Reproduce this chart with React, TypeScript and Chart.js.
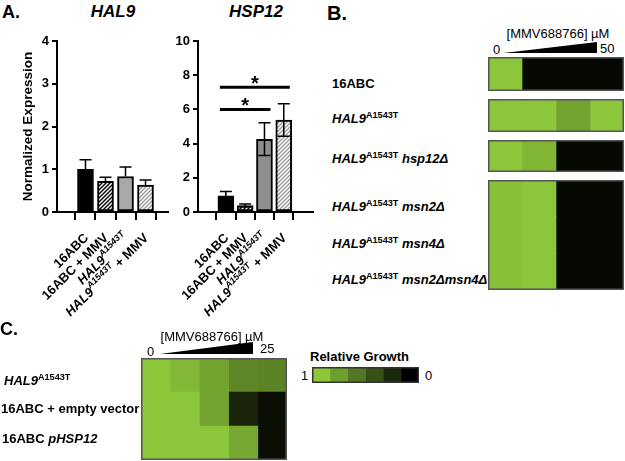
import React, { useEffect, useRef } from 'react';
import { Chart, registerables } from 'chart.js';
Chart.register(...registerables);

const FONT = '"Liberation Sans", Arial, Helvetica, sans-serif';

// ---------- Panel A data ----------
const conditionLabels = ['16ABC', '16ABC + MMV', 'HAL9 A1543T', 'HAL9 A1543T + MMV'];
const hal9Values = [1.0, 0.72, 0.83, 0.63];
const hal9ErrHigh = [1.22, 0.81, 1.05, 0.75];
const hal9YTicks = [0, 1, 2, 3, 4];
const hsp12Values = [0.95, 0.38, 4.25, 5.37];
const hsp12ErrHigh = [1.2, 0.47, 5.22, 6.33];
const hsp12ErrLow = [0.7, 0.29, 3.3, 4.43];
const hsp12YTicks = [0, 2, 4, 6, 8, 10];
const hsp12SigFrom = [0, 0];
const hsp12SigTo = [2, 3];
const hsp12SigLevel = [6.0, 7.3];

// rich x-axis labels (segments)
const xLabelParts = [
  [{ text: '16ABC' }],
  [{ text: '16ABC + MMV' }],
  [{ text: 'HAL9', italic: true }, { text: 'A1543T', italic: true, sup: true }],
  [{ text: 'HAL9', italic: true }, { text: 'A1543T', italic: true, sup: true }, { text: ' + MMV' }],
];

// ---------- Panel B data (relative growth, columns = increasing MMV688766 up to 50 µM) ----------
const bGrowth16ABC = [[1, 0.04, 0.04, 0.04]];
const bGrowthHal9 = [[1, 1, 0.82, 1]];
const bGrowthHsp12 = [[1, 0.92, 0.04, 0.04]];
const bGrowthMsn = [
  [0.97, 1, 0.04, 0.04],
  [0.97, 1, 0.04, 0.04],
  [0.97, 1, 0.04, 0.04],
];

// ---------- Panel C data (columns up to 25 µM) ----------
const cGrowth = [
  [1, 0.93, 0.83, 0.68, 0.66],
  [1, 1, 0.82, 0.18, 0.07],
  [1, 1, 1, 0.85, 0.07],
];
const legendSteps = [[1, 0.8, 0.6, 0.4, 0.2, 0]];

const GREEN = [140, 198, 58];
function growthColor(g: number) {
  return `rgb(${Math.round(GREEN[0] * g)},${Math.round(GREEN[1] * g)},${Math.round(GREEN[2] * g)})`;
}

function hatch(color: string, size = 4, lw = 1.3) {
  const c = document.createElement('canvas');
  c.width = size;
  c.height = size;
  const g = c.getContext('2d')!;
  g.fillStyle = '#fff';
  g.fillRect(0, 0, size, size);
  g.strokeStyle = color;
  g.lineWidth = lw;
  g.beginPath();
  g.moveTo(0, size);
  g.lineTo(size, 0);
  g.moveTo(-1, 1);
  g.lineTo(1, -1);
  g.moveTo(size - 1, size + 1);
  g.lineTo(size + 1, size - 1);
  g.stroke();
  return g.createPattern(c, 'repeat');
}

// ---------- plugins ----------
const errorBarsPlugin = {
  id: 'errorBars',
  afterDatasetsDraw(chart: any, _a: any, opts: any) {
    const { ctx } = chart;
    const xs = chart.scales.x;
    const ys = chart.scales.y;
    const vals = chart.data.datasets[0].data;
    ctx.save();
    ctx.strokeStyle = '#000';
    ctx.lineWidth = 1.5;
    vals.forEach((p: any, i: number) => {
      const x = xs.getPixelForValue(i);
      const yTop = ys.getPixelForValue(opts.high[i]);
      const yBot = ys.getPixelForValue(opts.low ? opts.low[i] : p.y);
      const half = opts.cap / 2;
      ctx.beginPath();
      ctx.moveTo(x, yTop);
      ctx.lineTo(x, yBot);
      ctx.moveTo(x - half, yTop);
      ctx.lineTo(x + half, yTop);
      if (opts.low) {
        ctx.moveTo(x - half, yBot);
        ctx.lineTo(x + half, yBot);
      }
      ctx.stroke();
    });
    ctx.restore();
  },
};

const significancePlugin = {
  id: 'significance',
  afterDatasetsDraw(chart: any, _a: any, opts: any) {
    if (!opts.from) return;
    const { ctx } = chart;
    const xs = chart.scales.x;
    const ys = chart.scales.y;
    ctx.save();
    opts.from.forEach((f: number, k: number) => {
      const x0 = xs.getPixelForValue(f) - 6;
      const x1 = xs.getPixelForValue(opts.to[k]) + 6;
      const y = ys.getPixelForValue(opts.level[k]);
      ctx.strokeStyle = '#000';
      ctx.lineWidth = 3;
      ctx.beginPath();
      ctx.moveTo(x0, y);
      ctx.lineTo(x1, y);
      ctx.stroke();
      ctx.fillStyle = '#000';
      ctx.font = `bold 20px ${FONT}`;
      ctx.textAlign = 'center';
      ctx.textBaseline = 'alphabetic';
      ctx.fillText('*', (x0 + x1) / 2, y + 3);
    });
    ctx.restore();
  },
};

const richXLabelsPlugin = {
  id: 'richXLabels',
  afterDraw(chart: any, _a: any, opts: any) {
    const { ctx } = chart;
    const xs = chart.scales.x;
    const base = chart.chartArea.bottom;
    const size = opts.size;
    const fontFor = (p: any) => `${p.italic ? 'italic ' : ''}bold ${p.sup ? Math.round(size * 0.7) : size}px ${FONT}`;
    opts.labels.forEach((parts: any[], i: number) => {
      const x = xs.getPixelForValue(i);
      ctx.save();
      ctx.translate(x + opts.dx, base + opts.dy);
      ctx.rotate(-Math.PI / 4);
      let total = 0;
      parts.forEach((p) => {
        ctx.font = fontFor(p);
        total += ctx.measureText(p.text).width;
      });
      let cx = -total;
      ctx.textBaseline = 'middle';
      ctx.textAlign = 'left';
      ctx.fillStyle = '#000';
      parts.forEach((p) => {
        ctx.font = fontFor(p);
        ctx.fillText(p.text, cx, p.sup ? -size * 0.38 : 0);
        cx += ctx.measureText(p.text).width;
      });
      ctx.restore();
    });
  },
};

const framePlugin = {
  id: 'frame',
  afterDraw(chart: any, _a: any, opts: any) {
    const { ctx, chartArea: a } = chart;
    ctx.save();
    ctx.strokeStyle = opts.color || '#555';
    ctx.lineWidth = 1.5;
    ctx.strokeRect(a.left + 0.75, a.top + 0.75, a.right - a.left - 1.5, a.bottom - a.top - 1.5);
    ctx.restore();
  },
};

// ---------- configs ----------
function barConfig(p: {
  values: number[]; high: number[]; low: number[] | null; yTicks: number[];
  xMin: number; xMax: number; gray: string; yAxisW: number; padRight: number; xAxisH: number;
  title?: string; sig?: any;
}) {
  const fills = ['#000', hatch('#000', 4, 1.4), p.gray, hatch('#9a9a9a', 4, 1.3)];
  const yMax = p.yTicks[p.yTicks.length - 1];
  return {
    type: 'bar',
    data: {
      labels: conditionLabels,
      datasets: [{
        data: p.values.map((v, i) => ({ x: i, y: v })),
        backgroundColor: fills,
        borderColor: '#000',
        borderWidth: 2,
        borderSkipped: false,
        barThickness: 16,
      }],
    },
    options: {
      animation: false,
      responsive: false,
      events: [],
      layout: { padding: { top: 16, right: p.padRight, left: 0, bottom: 0 } },
      plugins: {
        legend: { display: false },
        tooltip: { enabled: false },
        errorBars: { high: p.high, low: p.low, cap: 12 },
        significance: p.sig || {},
        richXLabels: { labels: xLabelParts, size: 13, dx: 1, dy: 24 },
      },
      scales: {
        x: {
          type: 'linear',
          min: p.xMin,
          max: p.xMax,
          afterBuildTicks: (s: any) => { s.ticks = p.values.map((_, i) => ({ value: i })); },
          ticks: { display: false },
          grid: { drawOnChartArea: false, drawTicks: true, tickLength: 8, color: '#000', lineWidth: 2 },
          border: { color: '#000', width: 2 },
          afterFit: (s: any) => { s.height = p.xAxisH; },
        },
        y: {
          min: 0,
          max: yMax,
          afterBuildTicks: (s: any) => { s.ticks = p.yTicks.map((v) => ({ value: v })); },
          ticks: { font: { family: FONT, size: 13, weight: 'bold' }, color: '#000', padding: 3 },
          grid: { drawOnChartArea: false, drawTicks: true, tickLength: 5, color: '#000', lineWidth: 2 },
          border: { color: '#000', width: 2 },
          title: p.title
            ? { display: true, text: p.title, color: '#000', font: { family: FONT, size: 13.5, weight: 'bold' }, padding: { top: 20, bottom: 0 } }
            : { display: false },
          afterFit: (s: any) => { s.width = p.yAxisW; },
        },
      },
    },
    plugins: [errorBarsPlugin, significancePlugin, richXLabelsPlugin],
  };
}

function heatConfig(matrix: number[][], frameColor: string) {
  const nCols = matrix[0].length;
  const datasets = Array.from({ length: nCols }, (_, c) => ({
    data: matrix.map(() => 1),
    backgroundColor: matrix.map((row) => growthColor(row[c])),
    borderWidth: 0,
    categoryPercentage: 1,
    barPercentage: 1,
  }));
  return {
    type: 'bar',
    data: { labels: matrix.map((_, r) => `row${r}`), datasets },
    options: {
      indexAxis: 'y',
      animation: false,
      responsive: false,
      events: [],
      layout: { padding: 0 },
      plugins: { legend: { display: false }, tooltip: { enabled: false }, frame: { color: frameColor } },
      scales: {
        x: { display: false, stacked: true, min: 0, max: nCols },
        y: { display: false, stacked: true },
      },
    },
    plugins: [framePlugin],
  };
}

function ChartBox(props: { left: number; top: number; width: number; height: number; make: () => any }) {
  const ref = useRef<HTMLCanvasElement>(null);
  useEffect(() => {
    const chart = new Chart(ref.current!, props.make());
    return () => chart.destroy();
  }, []);
  return (
    <canvas
      ref={ref}
      width={props.width}
      height={props.height}
      style={{ position: 'absolute', left: props.left, top: props.top, width: props.width, height: props.height }}
    />
  );
}

function T(props: { x: number; y: number; size?: number; bold?: boolean; italic?: boolean; center?: boolean; children: any }) {
  return (
    <div
      style={{
        position: 'absolute',
        left: props.x,
        top: props.y,
        transform: props.center ? 'translate(-50%,-50%)' : 'translateY(-50%)',
        fontSize: props.size || 13,
        fontWeight: props.bold ? 'bold' : 'normal',
        fontStyle: props.italic ? 'italic' : 'normal',
        whiteSpace: 'nowrap',
        lineHeight: 1,
        color: '#000',
      }}
    >
      {props.children}
    </div>
  );
}

const supStyle: React.CSSProperties = { fontSize: '0.7em', verticalAlign: '0.45em', lineHeight: 0, fontStyle: 'normal' };
const Hal9 = () => (
  <>
    <i>HAL9</i>
    <span style={supStyle}>A1543T</span>
  </>
);

function Wedge(props: { x0: number; x1: number; yTop: number; yBot: number }) {
  const w = props.x1 - props.x0;
  const h = props.yBot - props.yTop;
  return (
    <svg style={{ position: 'absolute', left: props.x0, top: props.yTop }} width={w} height={h}>
      <polygon points={`0,${h} ${w},0 ${w},${h}`} fill="#000" />
    </svg>
  );
}

export default function App() {
  useEffect(() => {
    document.body.style.margin = '0';
  }, []);
  return (
    <div style={{ position: 'absolute', left: 0, top: 0, width: 625, height: 461, background: '#fff', fontFamily: FONT, overflow: 'hidden' }}>
      {/* Panel A */}
      <T x={2} y={12} size={18} bold>A.</T>
      <T x={113} y={11} size={17} bold italic center>HAL9</T>
      <T x={256} y={11} size={17} bold italic center>HSP12</T>
      <ChartBox
        left={0} top={25} width={172} height={305}
        make={() => barConfig({
          values: hal9Values, high: hal9ErrHigh, low: null, yTicks: hal9YTicks,
          xMin: -0.73, xMax: 3.43, gray: '#a8a8a8', yAxisW: 57, padRight: 4, xAxisH: 118,
          title: 'Normalized Expression',
        })}
      />
      <ChartBox
        left={160} top={25} width={160} height={305}
        make={() => barConfig({
          values: hsp12Values, high: hsp12ErrHigh, low: hsp12ErrLow, yTicks: hsp12YTicks,
          xMin: -0.7, xMax: 3.77, gray: '#8e8e8e', yAxisW: 38, padRight: 7, xAxisH: 118,
          sig: { from: hsp12SigFrom, to: hsp12SigTo, level: hsp12SigLevel },
        })}
      />

      {/* Panel B */}
      <T x={327} y={13} size={20} bold>B.</T>
      <T x={558} y={33} size={13} center>[MMV688766] µM</T>
      <T x={493} y={49} size={13}>0</T>
      <Wedge x0={503} x1={597} yTop={42} yBot={53} />
      <T x={600} y={48} size={13}>50</T>
      <T x={332} y={83} size={13} bold>16ABC</T>
      <T x={332} y={118} size={13} bold><Hal9 /></T>
      <T x={332} y={158} size={13} bold><Hal9 /> <i>hsp12Δ</i></T>
      <T x={332} y={206} size={13} bold><Hal9 /> <i>msn2Δ</i></T>
      <T x={332} y={243} size={13} bold><Hal9 /> <i>msn4Δ</i></T>
      <T x={332} y={279} size={13} bold><Hal9 /> <i>msn2Δmsn4Δ</i></T>
      <ChartBox left={488} top={57} width={136} height={34} make={() => heatConfig(bGrowth16ABC, '#555')} />
      <ChartBox left={488} top={99} width={136} height={33} make={() => heatConfig(bGrowthHal9, '#555')} />
      <ChartBox left={488} top={140} width={136} height={32} make={() => heatConfig(bGrowthHsp12, '#555')} />
      <ChartBox left={488} top={180} width={136} height={110} make={() => heatConfig(bGrowthMsn, '#555')} />

      {/* Panel C */}
      <T x={0} y={329} size={18} bold>C.</T>
      <T x={212} y={336} size={13} center>[MMV688766] µM</T>
      <T x={147} y={351} size={13}>0</T>
      <Wedge x0={160} x1={253} yTop={342} yBot={354} />
      <T x={260} y={348} size={13}>25</T>
      <T x={4} y={380} size={13} bold><Hal9 /></T>
      <T x={1} y={408} size={13} bold>16ABC + empty vector</T>
      <T x={2} y={438} size={13} bold>16ABC <i>pHSP12</i></T>
      <ChartBox left={141} top={358} width={146} height={102} make={() => heatConfig(cGrowth, '#555')} />

      {/* Legend */}
      <T x={310} y={356} size={13} bold>Relative Growth</T>
      <T x={301} y={375} size={13}>1</T>
      <ChartBox left={312} top={367} width={107} height={16} make={() => heatConfig(legendSteps, '#333')} />
      <T x={425} y={375} size={13}>0</T>
    </div>
  );
}
